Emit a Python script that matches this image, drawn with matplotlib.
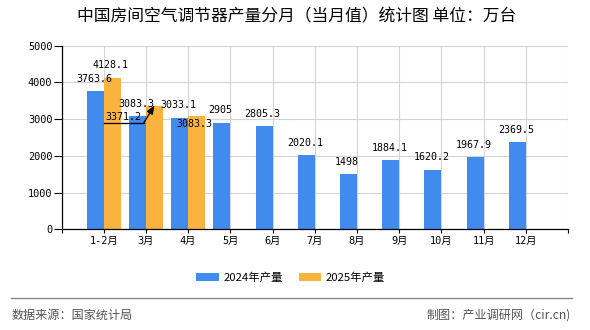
import matplotlib
matplotlib.use("Agg")
import matplotlib.pyplot as plt
from matplotlib.transforms import offset_copy

plt.rcParams['font.family'] = ['Noto Sans CJK SC', 'DejaVu Sans']

months = ['1-2月', '3月', '4月', '5月', '6月', '7月', '8月', '9月', '10月', '11月', '12月']
prod_2024 = [3763.6, 3083.3, 3033.1, 2905, 2805.3, 2020.1, 1498, 1884.1, 1620.2, 1967.9, 2369.5]
prod_2025 = [4128.1, 3371.2, 3083.3]
yticks = [0, 1000, 2000, 3000, 4000, 5000]

blue = '#418bee'
orange = '#fbb33f'
mono = ['DejaVu Sans Mono', 'Noto Sans CJK SC']

fig = plt.figure(figsize=(5.9, 3.3), dpi=100)
ax = fig.add_axes([61.5 / 590, 1 - 229.3 / 330, (568 - 61.5) / 590, (229.3 - 45.7) / 330])

w = 0.4
x24 = [i - w / 2 for i in range(len(prod_2024))]
x25 = [i + w / 2 for i in range(len(prod_2025))]
ax.bar(x24, prod_2024, width=w, color=blue, label='2024年产量', zorder=3)
ax.bar(x25, prod_2025, width=w, color=orange, label='2025年产量', zorder=3)

ax.set_xlim(-1, 11)
ax.set_ylim(0, 5000)
ax.set_xticks(range(-1, 12))
ax.set_xticklabels([''] + months + [''], family=mono, fontsize=7.4)
ax.set_yticks(yticks)
ax.set_yticklabels([str(v) for v in yticks], family=mono, fontsize=7.4)
ax.tick_params(axis='y', length=5.8, width=0.8, pad=0.8)
ax.tick_params(axis='x', length=3, width=0.8, pad=2)
ax.grid(True, color='#d4d4d4', linewidth=0.8, zorder=0)
for s in ['top', 'right']:
    ax.spines[s].set_visible(False)
for s in ['left', 'bottom']:
    ax.spines[s].set_linewidth(0.9)
    ax.spines[s].set_zorder(4)

# value labels (offsets in points for the overlapping ones)
special = {(2025, 1): (-22.2, -8), (2025, 2): (-1.8, -5.7)}
for year, xs, vals in [(2024, x24, prod_2024), (2025, x25, prod_2025)]:
    for i, (x, v) in enumerate(zip(xs, vals)):
        dx, dy = special.get((year, i), (-1, 9))
        ax.annotate(f'{v:g}', xy=(x, v), xytext=(dx, dy), textcoords='offset points',
                    ha='center', va='center', family=mono, fontsize=7.2, zorder=5)

# leader line for the displaced 3月 label
bx, bv = x25[1], prod_2025[1]
trans = offset_copy(ax.transData, fig=fig, x=0, y=-12.5, units='points')
ax.plot([bx - 1.19, bx - 0.25], [bv, bv], transform=trans, color='black', lw=0.9, zorder=6)
ax.annotate('', xy=(bx, bv), xytext=(bx - 0.25, bv), textcoords=trans,
            arrowprops=dict(arrowstyle='-|>,head_length=0.5,head_width=0.2', color='black',
                            lw=0.9, shrinkA=0, shrinkB=0), zorder=6)

fig.text(0.503, 1 - 17 / 330, '中国房间空气调节器产量分月（当月值）统计图 单位：万台',
         ha='center', va='center', fontsize=12.1)

fig.legend(loc='center', bbox_to_anchor=(290.5 / 590, 1 - 277.7 / 330), ncol=2, frameon=False,
           fontsize=8.2, handlelength=2.0, handleheight=0.7, handletextpad=0.35,
           columnspacing=1.4)

fig.add_artist(plt.Line2D([10.7 / 590, 571.7 / 590], [1 - 297.5 / 330] * 2,
                          color='#888888', lw=1.0))
fig.text(12 / 590, 1 - 315.5 / 330, '数据来源：国家统计局', ha='left', va='center',
         fontsize=8.7, color='#555555')
fig.text(571 / 590, 1 - 315.5 / 330, '制图：产业调研网（cir.cn)', ha='right', va='center',
         fontsize=8.7, color='#555555')

fig.savefig('out.png', dpi=100)
